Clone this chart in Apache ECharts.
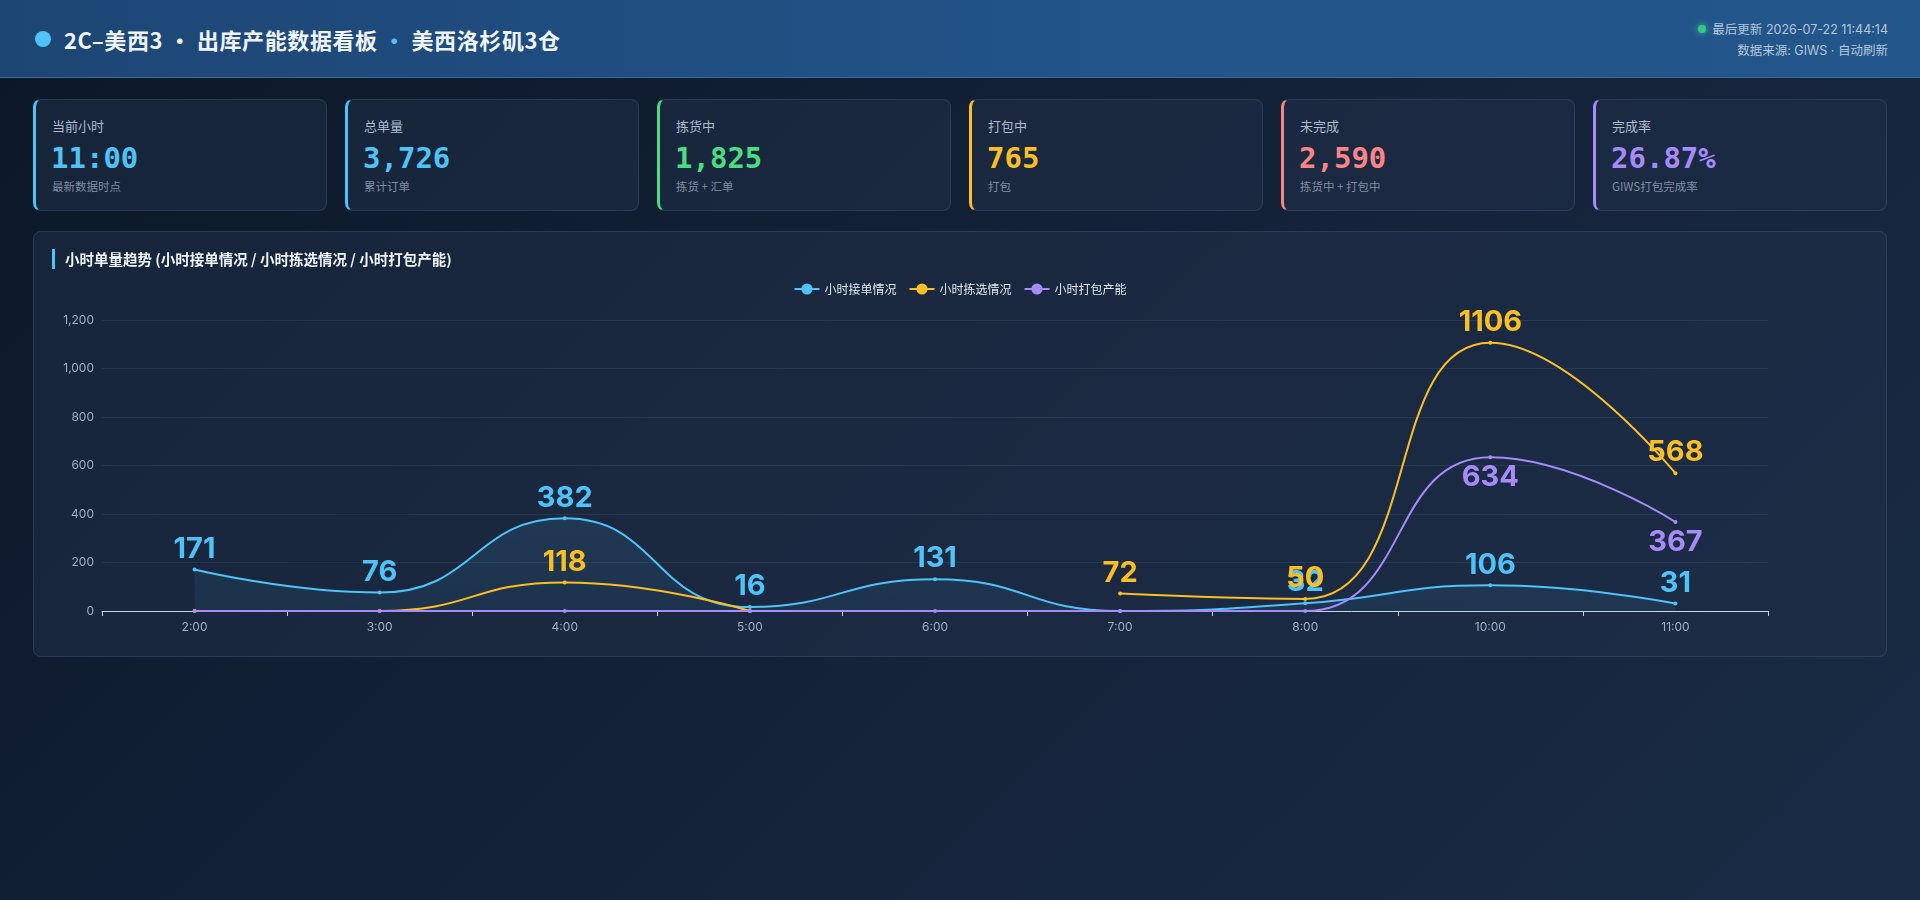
<!DOCTYPE html>
<html>
<head>
<meta charset="utf-8">
<title>2C-美西3 出库产能数据看板</title>
<script src="https://cdn.jsdelivr.net/npm/echarts@6.0.0/dist/echarts.min.js"></script>
<style>
  html, body { margin: 0; padding: 0; }
  body {
    width: 1920px; height: 900px; overflow: hidden;
    background: linear-gradient(135deg, #0c1828 0%, #14233a 55%, #1a2b45 100%);
    font-family: "Inter", "Noto Sans CJK SC", sans-serif;
    color: #e2e8f0;
    position: relative;
  }
  .header {
    position: absolute; left: 0; top: 0; width: 1920px; height: 78px;
    background: linear-gradient(90deg, #1d4674 0%, #22548a 60%, #23568b 100%);
    border-bottom: 1px solid #3d6a98;
    box-sizing: border-box;
  }
  .header .dot {
    position: absolute; left: 35px; top: 31px; width: 16px; height: 16px;
    border-radius: 50%; background: #4fc3f7;
  }
  .header .title {
    position: absolute; left: 64px; top: 22px; line-height: 34px;
    font-size: 22px; font-weight: 700; color: #eef4fb; letter-spacing: 0.6px;
    font-family: "Noto Sans CJK SC", sans-serif;
  }
  .header .title .sep2 { color: #4fc3f7; }
  .header .meta {
    position: absolute; right: 32px; top: 19px; text-align: right;
    font-size: 12.5px; color: #b6c7da; line-height: 21px;
    font-family: "Inter", "Noto Sans CJK SC", sans-serif;
  }
  .header .meta .live {
    display: inline-block; width: 8px; height: 8px; border-radius: 50%;
    background: #34c78a; box-shadow: 0 0 6px #34c78a; margin-right: 6px; vertical-align: 1px;
  }
  .cards { position: absolute; left: 33px; top: 99px; width: 1854px; height: 112px; }
  .card {
    position: absolute; top: 0; width: 294px; height: 112px; box-sizing: border-box;
    background: rgba(32, 48, 72, 0.55);
    border: 1px solid rgba(120, 150, 190, 0.18);
    border-left-width: 3px; border-radius: 8px;
  }
  .card .lab { position: absolute; left: 16px; top: 16px; font-size: 13px; color: #aebcce; font-family: "Noto Sans CJK SC", sans-serif; }
  .card .val { position: absolute; left: 15px; top: 38px; font-size: 29px; font-weight: 700; font-family: "DejaVu Sans Mono", monospace; line-height: 40px; }
  .card .sub { position: absolute; left: 16px; top: 78px; font-size: 11.5px; color: #7f8ea3; font-family: "Noto Sans CJK SC", sans-serif; }
  .panel {
    position: absolute; left: 33px; top: 231px; width: 1854px; height: 426px; box-sizing: border-box;
    background: rgba(32, 48, 72, 0.55);
    border: 1px solid rgba(120, 150, 190, 0.18);
    border-radius: 8px;
  }
  .panel .ptitle {
    position: absolute; left: 18px; top: 17px; height: 20px; line-height: 20px;
    border-left: 3px solid #4fc3f7; padding-left: 10px;
    font-size: 14.5px; font-weight: 700; color: #eef4fb;
    font-family: "Noto Sans CJK SC", sans-serif;
  }
  #chart { position: absolute; left: 0; top: 0; width: 1852px; height: 424px; }
</style>
</head>
<body>
<div class="header">
  <div class="dot"></div>
  <div class="title">2C–美西3 · 出库产能数据看板 <span class="sep2">·</span> 美西洛杉矶3仓</div>
  <div class="meta">
    <div><span class="live"></span>最后更新 2026-07-22 11:44:14</div>
    <div>数据来源: GIWS · 自动刷新</div>
  </div>
</div>
<div class="cards" id="cards"></div>
<div class="panel">
  <div id="chart"></div>
  <div class="ptitle">小时单量趋势 (小时接单情况 / 小时拣选情况 / 小时打包产能)</div>
</div>
<script>
// 顶部指标卡
var cardTitles = ['当前小时', '总单量', '拣货中', '打包中', '未完成', '完成率'];
var cardValues = ['11:00', '3,726', '1,825', '765', '2,590', '26.87%'];
var cardSubs = ['最新数据时点', '累计订单', '拣货 + 汇单', '打包', '拣货中 + 打包中', 'GIWS打包完成率'];
var cardColors = ['#4fc3f7', '#4fc3f7', '#4ade80', '#fbbf24', '#f88686', '#a78bfa'];

// 小时趋势
var hours = ['2:00', '3:00', '4:00', '5:00', '6:00', '7:00', '8:00', '10:00', '11:00'];
var orderIn = [171, 76, 382, 16, 131, 0, 32, 106, 31];
var picked = [0, 0, 118, 0, null, 72, 50, 1106, 568];
var packed = [0, 0, 0, 0, 0, 0, 0, 634, 367];
var seriesNames = ['小时接单情况', '小时拣选情况', '小时打包产能'];
var yMax = 1200, yStep = 200;

var cardsBox = document.getElementById('cards');
for (var i = 0; i < cardTitles.length; i++) {
  var c = document.createElement('div');
  c.className = 'card';
  c.style.left = (i * 312) + 'px';
  c.style.borderLeftColor = cardColors[i];
  c.innerHTML = '<div class="lab">' + cardTitles[i] + '</div>' +
    '<div class="val" style="color:' + cardColors[i] + '">' + cardValues[i] + '</div>' +
    '<div class="sub">' + cardSubs[i] + '</div>';
  cardsBox.appendChild(c);
}

var myChart = echarts.init(document.getElementById('chart'));

function hideZero(p) {
  return p.value ? String(p.value) : '';
}

function lineSeries(name, data, color, labelPos, area) {
  var s = {
    name: name,
    type: 'line',
    data: data,
    smooth: true,
    symbol: 'circle',
    symbolSize: 4,
    connectNulls: false,
    lineStyle: { width: 2, color: color },
    itemStyle: { color: color },
    label: {
      show: true,
      position: labelPos,
      distance: 4,
      formatter: hideZero,
      color: color,
      fontSize: 29,
      fontWeight: 'bold',
      fontFamily: 'Inter'
    }
  };
  if (area) {
    s.areaStyle = {
      color: new echarts.graphic.LinearGradient(0, 0, 0, 1, [
        { offset: 0, color: 'rgba(79,195,247,0.16)' },
        { offset: 1, color: 'rgba(79,195,247,0.10)' }
      ])
    };
  }
  return s;
}

var option = {
  animation: false,
  textStyle: { fontFamily: 'Inter, "Noto Sans CJK SC", sans-serif' },
  legend: {
    top: 46,
    left: 'center',
    itemWidth: 25,
    itemHeight: 14,
    itemGap: 12,
    textStyle: { color: '#e2e8f0', fontSize: 12, fontFamily: '"Noto Sans CJK SC", sans-serif' },
    data: seriesNames
  },
  grid: { left: 68, right: 118, top: 88, bottom: 45, containLabel: false },
  xAxis: {
    type: 'category',
    data: hours,
    boundaryGap: true,
    axisLine: { lineStyle: { color: '#c8d3e0', width: 1 } },
    axisTick: { show: true, length: 5, lineStyle: { color: '#c8d3e0' } },
    axisLabel: { color: '#9fb0c4', fontSize: 12, margin: 10 }
  },
  yAxis: {
    type: 'value',
    min: 0,
    max: yMax,
    interval: yStep,
    axisLine: { show: false },
    axisTick: { show: false },
    axisLabel: {
      color: '#9fb0c4', fontSize: 12, margin: 8,
      formatter: function (v) { return v.toLocaleString('en-US'); }
    },
    splitLine: { lineStyle: { color: 'rgba(120,150,190,0.14)' } }
  },
  series: [
    lineSeries(seriesNames[0], orderIn, '#4fc3f7', 'top', true),
    lineSeries(seriesNames[1], picked, '#fbbf24', 'top', false),
    lineSeries(seriesNames[2], packed, '#a78bfa', 'bottom', false)
  ]
};

if (option && typeof option === 'object') {
  myChart.setOption(option, true);
}
</script>
</body>
</html>
